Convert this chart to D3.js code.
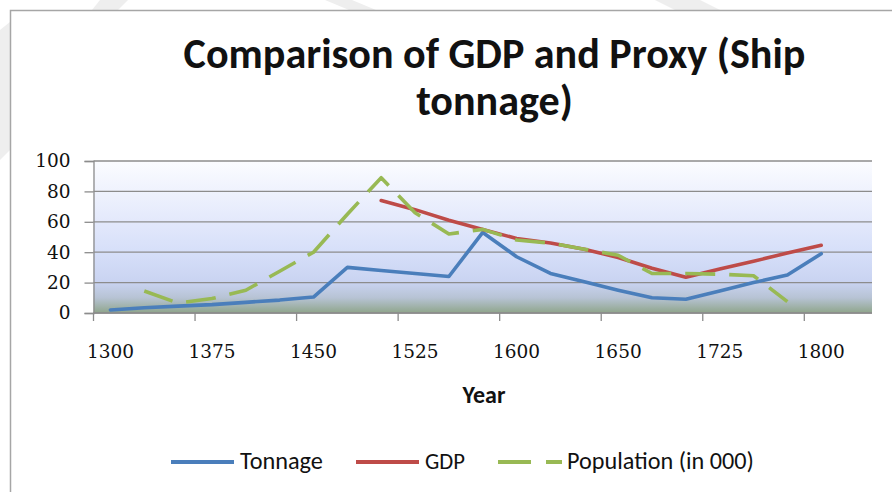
<!DOCTYPE html>
<html>
<head>
<meta charset="utf-8">
<script src="https://cdn.jsdelivr.net/npm/d3@7/dist/d3.min.js"></script>
<style>
  html, body { margin: 0; padding: 0; background: #ffffff; }
  svg { display: block; }
</style>
</head>
<body>
<svg id="chart" width="892" height="492"></svg>
<script>
// ---- data ----
const categories = ["1300","1325","1350","1375","1400","1425","1450","1475","1500","1525","1550","1575",
                    "1600","1615","1630","1650","1675","1700","1725","1750","1775","1800","1825"];
const labelEvery = 3;
const tonnage    = [2, 3.5, 4.5, 5.5, 7, 8.5, 10.5, 30, 28, 26, 24, 53, 37, 26, 20.5, 15, 10, 9, 14.5, 20, 25, 39, null];
const gdp        = [null, null, null, null, null, null, null, null, 74, 68, 61, 55, 49, 46, 42, 36.5, 29.5, 23.5, 29, 34, 39.5, 44.5, null];
const population = [null, 14.5, 6.5, 9.5, 15, 27.5, 40, 65, 89, 66, 52, 55, 48, 46, 42, 38, 26, 26, 25.5, 24.5, 7.5, null, null];
const yTicks = [0, 20, 40, 60, 80, 100];
const seriesNames = ["Tonnage", "GDP", "Population (in 000)"];
const titleLines = ["Comparison of GDP and Proxy (Ship", "tonnage)"];
const xTitle = "Year";

// ---- layout ----
const svg = d3.select("#chart");
const plot = { left: 93.5, right: 872, top: 161, bottom: 313 };
const colors = ["#4A7EBB", "#BE4B48", "#98B954"];

// faint watermark bands in the margins
const wm = svg.append("g").attr("fill", "#eeeeee");
[[[100,0],[128,0],[118,10],[92,10]],
 [[325,0],[352,0],[376,10],[349,10]],
 [[655,0],[700,0],[720,10],[675,10]],
 [[0,30],[10,22],[10,150],[0,160]]].forEach(p => wm.append("polygon").attr("points", p.map(q => q.join(",")).join(" ")));

// chart border (extends past right/bottom edges)
svg.append("path").attr("d", "M10.5,500 V10.5 H900")
  .attr("fill", "none").attr("stroke", "#a6a6a6").attr("stroke-width", 1.5);

// gradient for plot area
const defs = svg.append("defs");
const grad = defs.append("linearGradient").attr("id", "bg").attr("x1", 0).attr("y1", 0).attr("x2", 0).attr("y2", 1);
[[0, "#fbfcff"], [0.35, "#e6ebfc"], [0.6, "#d6dff9"], [0.8, "#c9d3f1"], [0.9, "#b7c3d4"], [1, "#8fa58b"]]
  .forEach(([o, c]) => grad.append("stop").attr("offset", o).attr("stop-color", c));

const x = d3.scaleBand().domain(categories).range([plot.left, plot.right]).padding(0);
const y = d3.scaleLinear().domain([0, 100]).range([plot.bottom, plot.top]);
const cx = c => x(c) + x.bandwidth() / 2;

svg.append("rect")
  .attr("x", plot.left).attr("y", plot.top)
  .attr("width", plot.right - plot.left).attr("height", plot.bottom - plot.top)
  .attr("fill", "url(#bg)");

// gridlines
svg.append("g").selectAll("line").data(yTicks).join("line")
  .attr("x1", plot.left).attr("x2", plot.right)
  .attr("y1", d => y(d)).attr("y2", d => y(d))
  .attr("stroke", "#8c8c8c").attr("stroke-width", 1.3);

// y axis
const yAxis = svg.append("g").attr("transform", `translate(${plot.left},0)`)
  .call(d3.axisLeft(y).tickValues(yTicks).tickSize(9).tickPadding(14).tickFormat(d3.format("d")));
yAxis.select(".domain").attr("stroke", "#8c8c8c").attr("stroke-width", 1.3);
yAxis.selectAll(".tick line").attr("stroke", "#8c8c8c").attr("stroke-width", 1.3);
yAxis.selectAll(".tick text")
  .attr("font-family", "'DejaVu Serif', serif").attr("font-size", 18.5).attr("fill", "#111");

// x axis: labels centered on categories, ticks on boundaries
const labelCats = categories.filter((c, i) => i % labelEvery === 0 && i < 22);
const xAxis = svg.append("g").attr("transform", `translate(0,${plot.bottom})`)
  .call(d3.axisBottom(x).tickValues(labelCats).tickSize(0).tickPadding(32));
xAxis.select(".domain").remove();
xAxis.selectAll(".tick text")
  .attr("font-family", "'DejaVu Serif', serif").attr("font-size", 18.5).attr("fill", "#111");
svg.append("line").attr("x1", plot.left).attr("x2", plot.right)
  .attr("y1", plot.bottom).attr("y2", plot.bottom).attr("stroke", "#8c8c8c").attr("stroke-width", 1.3);
svg.append("g").selectAll("line").data(labelCats).join("line")
  .attr("x1", d => x(d)).attr("x2", d => x(d))
  .attr("y1", plot.bottom).attr("y2", plot.bottom + 8)
  .attr("stroke", "#8c8c8c").attr("stroke-width", 1.3);

// series lines
const line = d3.line().defined(d => d.v != null).x(d => cx(d.c)).y(d => y(d.v));
const series = [tonnage, gdp, population].map(arr => categories.map((c, i) => ({ c, v: arr[i] })));
series.forEach((s, i) => {
  svg.append("path").datum(s).attr("d", line)
    .attr("fill", "none").attr("stroke", colors[i]).attr("stroke-width", 3.6)
    .attr("stroke-linejoin", "round")
    .attr("stroke-linecap", i === 2 ? "butt" : "round")
    .attr("stroke-dasharray", i === 2 ? "30,14" : null);
});

// helper: fit font-size so text reaches a target width
function fit(sel, target) {
  const w = sel.node().getComputedTextLength();
  const fs = parseFloat(sel.attr("font-size"));
  sel.attr("font-size", fs * target / w);
}

// title
const t1 = svg.append("text").attr("x", 494.5).attr("y", 68).attr("text-anchor", "middle")
  .attr("font-family", "Carlito, Lato, sans-serif").attr("font-weight", "bold").attr("font-size", 36)
  .attr("fill", "#111").text(titleLines[0]);
fit(t1, 622);
const t2 = svg.append("text").attr("x", 494.5).attr("y", 115).attr("text-anchor", "middle")
  .attr("font-family", "Carlito, Lato, sans-serif").attr("font-weight", "bold")
  .attr("font-size", t1.attr("font-size")).attr("fill", "#111").text(titleLines[1]);

// x title
const xt = svg.append("text").attr("x", 484).attr("y", 403).attr("text-anchor", "middle")
  .attr("font-family", "Carlito, Lato, sans-serif").attr("font-weight", "bold").attr("font-size", 18)
  .attr("fill", "#111").text(xTitle);
fit(xt, 43);

// legend
const legendItems = [
  { x1: 171, x2: 234, tx: 240, tw: 83, dash: null },
  { x1: 356, x2: 419, tx: 425, tw: 40, dash: null },
  { x1: 498, x2: 562, tx: 567, tw: 187, dash: "33,15" }
];
const lg = svg.append("g");
legendItems.forEach((it, i) => {
  lg.append("line").attr("x1", it.x1).attr("x2", it.x2).attr("y1", 462).attr("y2", 462)
    .attr("stroke", colors[i]).attr("stroke-width", 4)
    .attr("stroke-dasharray", it.dash);
  const tx = lg.append("text").attr("x", it.tx).attr("y", 469)
    .attr("font-family", "Carlito, Lato, sans-serif").attr("font-size", 19)
    .attr("fill", "#111").text(seriesNames[i]);
  fit(tx, it.tw);
});
</script>
</body>
</html>
